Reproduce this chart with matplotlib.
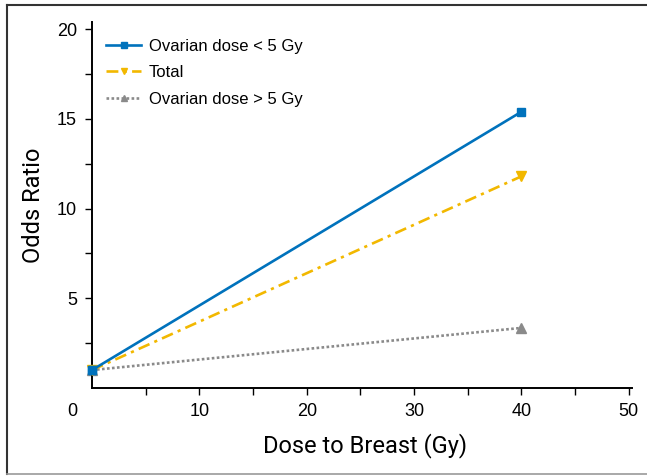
import matplotlib
matplotlib.use("Agg")
import matplotlib.pyplot as plt
from matplotlib import font_manager
from matplotlib.lines import Line2D

# ============ data ============
dose = [0, 40]
or_low = [1.0, 15.4]     # ovarian dose < 5 Gy
or_total = [1.0, 11.8]
or_high = [1.0, 3.35]    # ovarian dose > 5 Gy
labels = ["Ovarian dose < 5 Gy", "Total", "Ovarian dose > 5 Gy"]

x_major = [10, 20, 30, 40, 50]
x_minor = [5, 15, 25, 35, 45]
y_major = [5, 10, 15, 20]
y_minor = [2.5, 7.5, 12.5, 17.5]

# ============ fonts ============
names = {f.name for f in font_manager.fontManager.ttflist}
base_font = "Liberation Sans" if "Liberation Sans" in names else "DejaVu Sans"
label_font = "Roboto" if "Roboto" in names else base_font
plt.rcParams["font.family"] = [base_font, "DejaVu Sans"]

BLUE = "#0072bc"
YELLOW = "#f2b800"
GRAY = "#8a8a8a"

W, H = 647, 476
fig = plt.figure(figsize=(W / 100, H / 100), dpi=100)
ax = fig.add_axes([92 / W, (H - 388) / H, (632 - 92) / W, (388 - 21.7) / H])

lw = 1.9
ax.plot(dose, or_low, color=BLUE, lw=lw, ls="-", marker="s", ms=6,
        label=labels[0], clip_on=False, zorder=4)
ax.plot(dose, or_total, color=YELLOW, lw=lw, ls=(0, (4.5, 2, 1.2, 2)), marker="v",
        ms=7.5, label=labels[1], clip_on=False, zorder=3)
ax.plot(dose, or_high, color=GRAY, lw=lw, ls=(0, (1, 0.9)), marker="^", ms=7.5,
        label=labels[2], clip_on=False, zorder=2)
# square marker on top of the common start point
ax.plot(dose[:1], or_low[:1], color=BLUE, marker="s", ms=6, ls="none",
        clip_on=False, zorder=5)

ax.set_xlim(0, 50.3)
ax.set_ylim(0, 20.42)
ax.set_xticks(x_major)
ax.set_xticks(x_minor, minor=True)
ax.set_yticks(y_major)
ax.set_yticks(y_minor, minor=True)

for s in ["top", "right"]:
    ax.spines[s].set_visible(False)
for s in ["left", "bottom"]:
    ax.spines[s].set_linewidth(1.4)

ax.tick_params(which="both", direction="out", length=4.8, width=1.0, color="black")
ax.tick_params(axis="both", which="major", labelsize=13, pad=6)

# shared origin label
ax.annotate("0", xy=(0, 0), xycoords="data", xytext=(-14.5, -16.8),
            textcoords="offset points", ha="center", va="center", fontsize=13)

fig.text(365 / W, 1 - 446 / H, "Dose to Breast (Gy)", ha="center", va="center",
         fontsize=17, family=[label_font, "DejaVu Sans"])
fig.text(33 / W, 1 - 205 / H, "Odds Ratio", ha="center", va="center", rotation=90,
         fontsize=17, family=[label_font, "DejaVu Sans"])

leg = ax.legend(loc="upper left", bbox_to_anchor=(0.005, 0.985), frameon=False,
                fontsize=12, handlelength=2.1, handletextpad=0.45,
                labelspacing=0.68, borderaxespad=0.3)
for h in leg.legend_handles:
    h.set_markersize(5)

# outer frame of the figure
fig.add_artist(Line2D([7 / W, 7 / W], [1 - 5 / H, 1 - 474 / H], transform=fig.transFigure,
                      color="#333333", lw=1.5))
fig.add_artist(Line2D([7 / W, 1], [1 - 5 / H, 1 - 5 / H], transform=fig.transFigure,
                      color="#333333", lw=1.5))
fig.add_artist(Line2D([7 / W, 1], [1 - 474 / H, 1 - 474 / H], transform=fig.transFigure,
                      color="#999999", lw=1.2))

fig.savefig("out.png", dpi=100)
